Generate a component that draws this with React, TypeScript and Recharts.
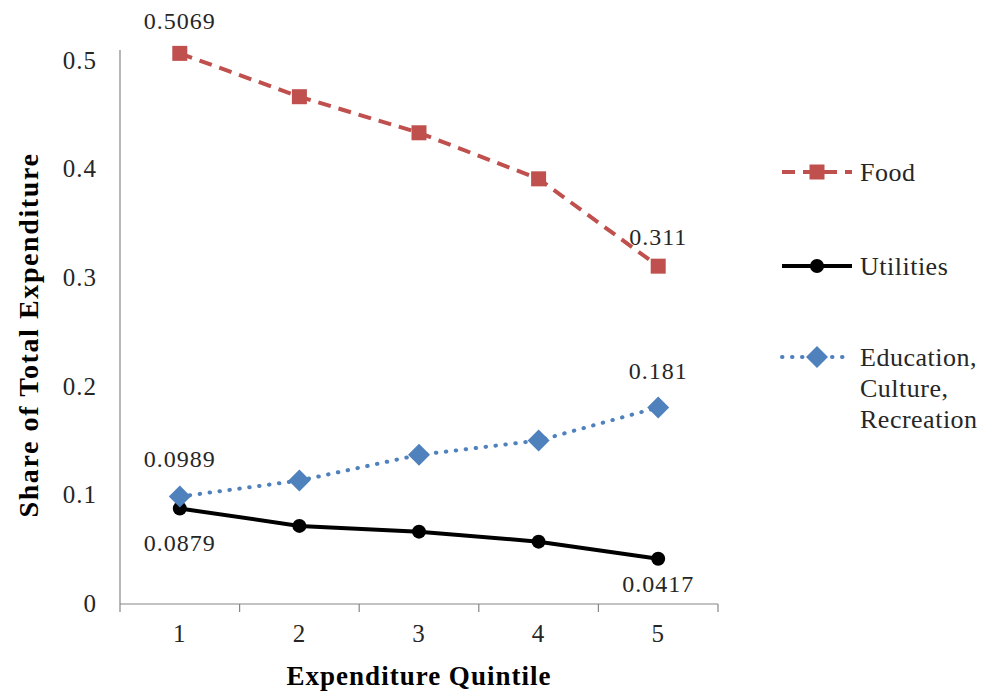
import { LineChart, Line, XAxis, YAxis, Legend, LabelList, Label } from "recharts";

const quintiles = [1, 2, 3, 4, 5];
const food = [0.5069, 0.467, 0.4338, 0.3914, 0.311];
const utilities = [0.0879, 0.0719, 0.0666, 0.0574, 0.0417];
const education = [0.0989, 0.1136, 0.1373, 0.1505, 0.181];
const yTicks = [0, 0.1, 0.2, 0.3, 0.4, 0.5];
const xTicks = [0.5, 1, 1.5, 2, 2.5, 3, 3.5, 4, 4.5, 5, 5.5];

const data = quintiles.map((q, i) => ({
  q,
  food: food[i],
  utilities: utilities[i],
  education: education[i],
}));

const FONT = "'Liberation Serif', 'Times New Roman', serif";
const AXIS = "#868686";
const TEXT = "#262626";

function QuintileTick(props: any) {
  const { x, y, payload } = props;
  const v = payload.value;
  if (Number.isInteger(v)) {
    return (
      <text x={x} y={y + 38} textAnchor="middle" fontFamily={FONT} fontSize={25} fill={TEXT} letterSpacing={1}>
        {v}
      </text>
    );
  }
  return <line x1={x} x2={x} y1={y} y2={y + 8} stroke={AXIS} strokeWidth={1.2} />;
}

function ShareTick(props: any) {
  const { x, y, payload } = props;
  return (
    <text x={x} y={y + 8} textAnchor="end" fontFamily={FONT} fontSize={25} fill={TEXT} letterSpacing={1}>
      {payload.value}
    </text>
  );
}

// labels only at the two ends of each series
const endLabel = (dyFirst: number, dyLast: number) => (props: any) => {
  const { x, y, value, index } = props;
  if (index !== 0 && index !== quintiles.length - 1) return null;
  return (
    <text x={x} y={y + (index === 0 ? dyFirst : dyLast)} textAnchor="middle" fontFamily={FONT} fontSize={24}
      fill={TEXT} letterSpacing={1}>
      {value}
    </text>
  );
};

const squareDot = (p: any) => (
  <rect key={`sq-${p.index}`} x={p.cx - 7.5} y={p.cy - 7.5} width={15} height={15} fill="#C0504D" />
);
const circleDot = (p: any) => <circle key={`ci-${p.index}`} cx={p.cx} cy={p.cy} r={7} fill="#000" />;
const diamondDot = (p: any) => (
  <path
    key={`di-${p.index}`}
    d={`M${p.cx},${p.cy - 11} L${p.cx + 11},${p.cy} L${p.cx},${p.cy + 11} L${p.cx - 11},${p.cy} Z`}
    fill="#4F81BD"
  />
);

function LegendBox(props: any) {
  const items = props.payload || [];
  const rows: Record<string, number> = { food: 32, utilities: 126, education: 217 };
  return (
    <svg width={210} height={300} style={{ display: "block" }}>
      {items.map((it: any) => {
        const key = it.dataKey as string;
        const cy = rows[key];
        const dash = it.payload?.strokeDasharray;
        const lines = key === "education" ? ["Education,", "Culture,", "Recreation"] : [it.value];
        return (
          <g key={key}>
            <line x1={7} x2={77} y1={cy} y2={cy} stroke={it.color} strokeWidth={4} strokeDasharray={dash}
              strokeLinecap={key === "education" ? "round" : "butt"} />
            {key === "food" && <rect x={34.5} y={cy - 7.5} width={15} height={15} fill={it.color} />}
            {key === "utilities" && <circle cx={42} cy={cy} r={7} fill={it.color} />}
            {key === "education" && (
              <path d={`M42,${cy - 11} L53,${cy} L42,${cy + 11} L31,${cy} Z`} fill={it.color} />
            )}
            {lines.map((t: string, i: number) => (
              <text key={t} x={85} y={cy + 9 + i * 31} fontFamily={FONT} fontSize={26} fill={TEXT} letterSpacing={0.5}>
                {t}
              </text>
            ))}
          </g>
        );
      })}
    </svg>
  );
}

export default function App() {
  return (
    <div style={{ position: "absolute", left: 0, top: 0, background: "#fff" }}>
      <LineChart width={985} height={696} data={data} margin={{ top: 50, right: 57, bottom: 0, left: 0 }}>
        <XAxis
          dataKey="q"
          type="number"
          domain={[0.5, 5.5]}
          ticks={xTicks}
          interval={0}
          tick={<QuintileTick />}
          tickLine={false}
          tickSize={0}
          tickMargin={0}
          height={92}
          axisLine={{ stroke: AXIS, strokeWidth: 1.2 }}
        >
          <Label
            content={(p: any) => {
              const vb = p.viewBox;
              return (
                <text x={vb.x + vb.width / 2} y={vb.y + 81} textAnchor="middle" fontFamily={FONT} fontSize={27}
                  fontWeight="bold" fill="#000" letterSpacing={1}>
                  Expenditure Quintile
                </text>
              );
            }}
          />
        </XAxis>
        <YAxis
          type="number"
          domain={[0, 0.51]}
          ticks={yTicks}
          interval={0}
          width={120}
          tick={<ShareTick />}
          tickLine={false}
          tickSize={0}
          tickMargin={23}
          axisLine={{ stroke: AXIS, strokeWidth: 1.2 }}
        >
          <Label
            content={(p: any) => {
              const vb = p.viewBox;
              const cx = vb.x + 28;
              const cy = vb.y + vb.height / 2 + 8;
              return (
                <text x={cx} y={cy} transform={`rotate(-90 ${cx} ${cy})`} textAnchor="middle"
                  dominantBaseline="central" fontFamily={FONT} fontSize={28} fontWeight="bold" fill="#000"
                  letterSpacing={1.6}>
                  Share of Total Expenditure
                </text>
              );
            }}
          />
        </YAxis>
        <Legend
          layout="vertical"
          align="right"
          verticalAlign="middle"
          content={<LegendBox />}
          wrapperStyle={{ left: 775, top: 140, width: 210 }}
        />
        <Line dataKey="food" name="Food" stroke="#C0504D" strokeWidth={4} strokeDasharray="13 8"
          dot={squareDot} activeDot={false} isAnimationActive={false}>
          <LabelList dataKey="food" content={endLabel(-24, -21)} />
        </Line>
        <Line dataKey="utilities" name="Utilities" stroke="#000" strokeWidth={4}
          dot={circleDot} activeDot={false} isAnimationActive={false}>
          <LabelList dataKey="utilities" content={endLabel(42, 33)} />
        </Line>
        <Line dataKey="education" name="Education, Culture, Recreation" stroke="#4F81BD" strokeWidth={4}
          strokeDasharray="0.5 9.5" strokeLinecap="round"
          dot={diamondDot} activeDot={false} isAnimationActive={false}>
          <LabelList dataKey="education" content={endLabel(-30, -28)} />
        </Line>
      </LineChart>
    </div>
  );
}
